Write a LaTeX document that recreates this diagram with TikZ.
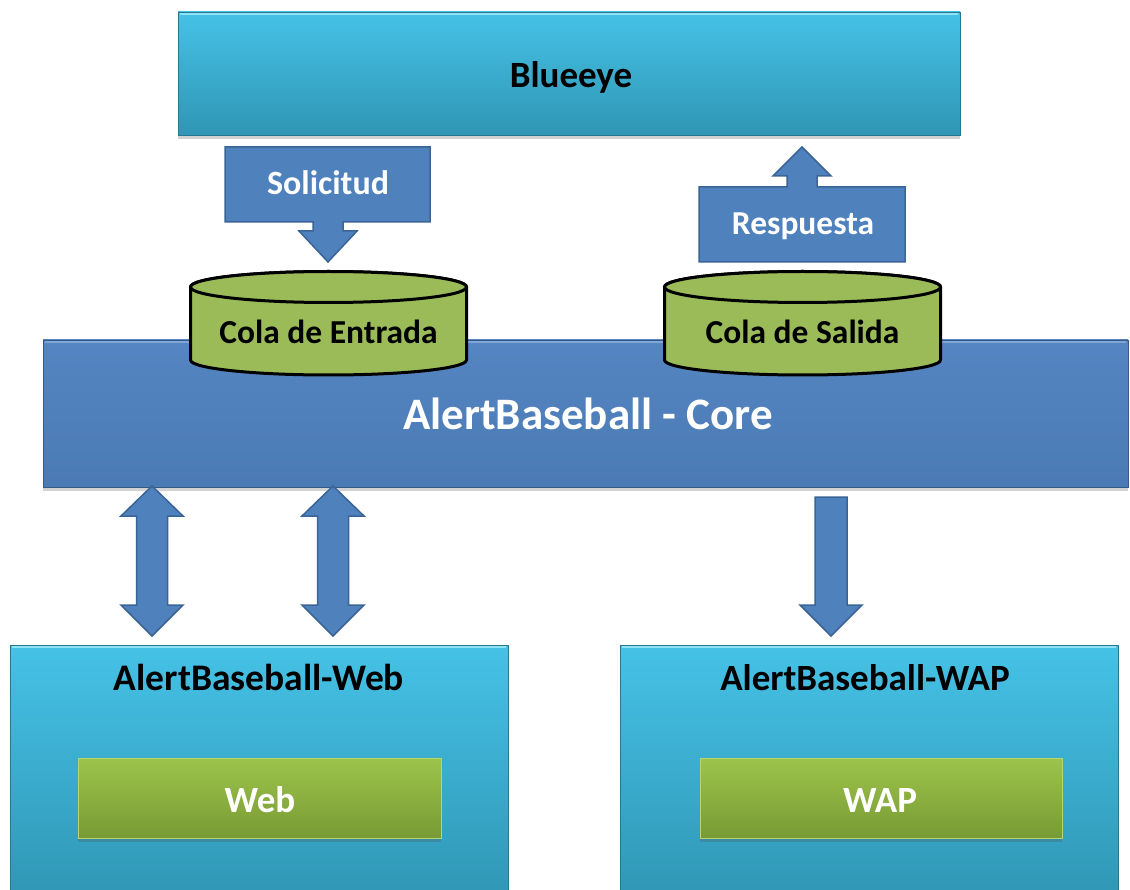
\documentclass[tikz,border=0pt]{standalone}
\usepackage{fontspec}
\setmainfont{Carlito}
\usetikzlibrary{shadows}
\definecolor{cyanTop}{HTML}{45C2E6}
\definecolor{cyanBot}{HTML}{3096B5}
\definecolor{cyanEdge}{HTML}{8EE3F5}
\definecolor{coreBlue}{HTML}{4F81BD}
\definecolor{coreTop}{HTML}{5585C2}
\definecolor{coreEdge}{HTML}{7FA6D6}
\definecolor{arrowLine}{HTML}{3A6496}
\definecolor{dbGreen}{HTML}{9BBB59}
\definecolor{grTop}{HTML}{9DC44B}
\definecolor{grBot}{HTML}{789A34}
\definecolor{grEdge}{HTML}{B4D66C}
\tikzset{
  x=1pt, y=-1pt,
  softshadow/.style={drop shadow={shadow xshift=0pt, shadow yshift=-4pt, opacity=0.25, fill=black!70}},
  cyanbox/.style={top color=cyanTop, bottom color=cyanBot, draw=cyanBot!80!black, line width=0.6pt, softshadow},
  corebox/.style={top color=coreTop, bottom color=coreBlue!95!black, draw=coreBlue!70!black, line width=0.6pt, softshadow},
  greenbox/.style={top color=grTop, bottom color=grBot, draw=grEdge, line width=1pt, softshadow},
  blockarrow/.style={fill=coreBlue, draw=arrowLine, line width=1.5pt, line join=miter},
  dbshape/.style={fill=dbGreen, draw=black, line width=3pt},
  darktxt/.style={font=\bfseries, text=black, anchor=base},
  lighttxt/.style={font=\bfseries, text=white, anchor=base},
}
\begin{document}
\begin{tikzpicture}
\useasboundingbox (0,0) rectangle (1130,890);
\fill[white] (0,0) rectangle (1130,890);

% ---- Blueeye ----
\path[cyanbox] (178,12) rectangle (960,135);
\draw[cyanEdge, line width=2pt] (180,14) -- (958,14);
\node[darktxt, font=\bfseries\fontsize{37}{42}\selectfont] (blueeye) at (571,88) {Blueeye};

% ---- request callout (down) ----
\path[blockarrow] (225,147) -- (430,147) -- (430,222) -- (343,222) -- (343,231)
  -- (357,231) -- (328,262) -- (299,231) -- (313,231) -- (313,222) -- (225,222) -- cycle;
\node[lighttxt, font=\bfseries\fontsize{34}{40}\selectfont] (sol) at (328,195) {Solicitud};

% ---- response callout (up) ----
\path[blockarrow] (699,187) -- (787,187) -- (787,176) -- (773,176) -- (802,147)
  -- (831,176) -- (817,176) -- (817,187) -- (905,187) -- (905,262) -- (699,262) -- cycle;
\node[lighttxt, font=\bfseries\fontsize{33.5}{40}\selectfont] (resp) at (803,235) {Respuesta};

% ---- Core ----
\path[corebox] (43,340) rectangle (1128,487);
\draw[coreEdge, line width=2pt] (45,342) -- (1126,342);
\node[lighttxt, font=\bfseries\fontsize{45}{52}\selectfont] (core) at (588,430) {AlertBaseball - Core};

% ---- queues ----
\foreach \cx/\nm/\lbl in {328.5/qin/Cola de Entrada, 802.5/qout/Cola de Salida}{
  \path[dbshape] (\cx-138,287) -- (\cx-138,360) arc[start angle=180, end angle=360, x radius=138, y radius=-15]
     -- (\cx+138,287) arc[start angle=0, end angle=180, x radius=138, y radius=-15.5] -- cycle;
  \draw[dbshape] (\cx,287) ellipse[x radius=138, y radius=15.5];
  \node[darktxt, font=\bfseries\fontsize{33.5}{40}\selectfont] (\nm) at (\cx,344) {\lbl};
}

% ---- two-way links ----
\foreach \ax in {152,333}{
  \path[blockarrow] (\ax,486) -- (\ax+31,516) -- (\ax+15.5,516) -- (\ax+15.5,605) -- (\ax+31,605)
    -- (\ax,636) -- (\ax-31,605) -- (\ax-15.5,605) -- (\ax-15.5,516) -- (\ax-31,516) -- cycle;
}
% ---- one-way link ----
\path[blockarrow] (815,497) -- (847,497) -- (847,605) -- (862,605) -- (831,636)
  -- (800,605) -- (815,605) -- cycle;

% ---- Web ----
\path[cyanbox] (10,645) rectangle (508,900);
\draw[cyanEdge, line width=2pt] (12,647) -- (506,647);
\node[darktxt, font=\bfseries\fontsize{37.5}{44}\selectfont] (webTitle) at (259,690) {AlertBaseball-Web};
\path[greenbox] (78,758) rectangle (441,838);
\node[lighttxt, font=\bfseries\fontsize{37}{44}\selectfont] (web) at (260,812) {Web};

% ---- WAP ----
\path[cyanbox] (620,645) rectangle (1118,900);
\draw[cyanEdge, line width=2pt] (622,647) -- (1116,647);
\node[darktxt, font=\bfseries\fontsize{37}{44}\selectfont] (wapTitle) at (865,690) {AlertBaseball-WAP};
\path[greenbox] (700,758) rectangle (1062,838);
\node[lighttxt, font=\bfseries\fontsize{37}{44}\selectfont] (wap) at (880,812) {WAP};
\end{tikzpicture}
\end{document}
